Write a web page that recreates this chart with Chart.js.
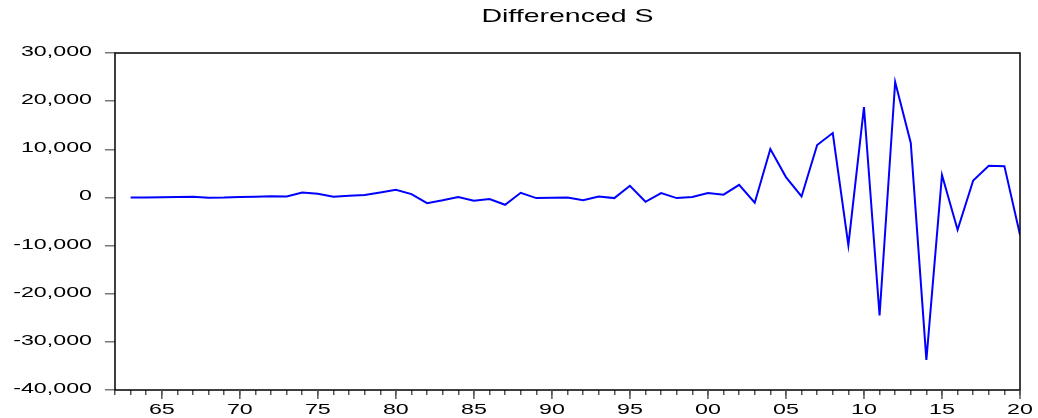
<!DOCTYPE html>
<html lang="en">
<head>
    <meta charset="UTF-8">
    <title>Differenced S</title>
    <script src="https://cdn.jsdelivr.net/npm/chart.js"></script>
    <style>
        body { margin: 0; background: #fff; }
        #wrap { width: 1038px; height: 418px; }
    </style>
</head>
<body>
<div id="wrap"><canvas id="chart" width="1038" height="418"></canvas></div>
<script>
// years 1963 - 2020
const years = [];
for (let y = 1963; y <= 2020; y++) years.push(y);

const values = [
    0, 0, 50, 100, 150, -50, -30, 100, 150, 250,          // 1963-1972
    200, 1000, 760, 140, 350, 490, 1040, 1600, 700, -1180, // 1973-1982
    -600, 70, -700, -350, -1530, 970, -140, -70, 0, -560, // 1983-1992
    200, -140, 2430, -900, 900, -140, 70, 900, 580, 2600, // 1993-2002
    -1110, 10050, 4230, 210, 10880, 13370, -9910, 18780, -24530, 23980, // 2003-2012
    11300, -33750, 4640, -6720, 3530, 6580, 6500, -7760    // 2013-2020
];

const yTicks = [-40000, -30000, -20000, -10000, 0, 10000, 20000, 30000];
const titleText = "Differenced S";

const FONT = '"Liberation Sans", Arial, sans-serif';
const STRETCH = 1.55;

// text looks horizontally stretched in the original
function stretchedText(ctx, text, x, y, align, size, sx) {
    ctx.save();
    ctx.font = size + 'px ' + FONT;
    ctx.fillStyle = '#000';
    ctx.textBaseline = 'alphabetic';
    const w = ctx.measureText(text).width * sx;
    let left = x;
    if (align === 'center') left = x - w / 2;
    if (align === 'right') left = x - w;
    ctx.translate(left, y);
    ctx.scale(sx, 1);
    ctx.textAlign = 'left';
    ctx.fillText(text, 0, 0);
    ctx.restore();
}

const framePlugin = {
    id: 'frame',
    afterDraw(chart) {
        const ctx = chart.ctx;
        const a = chart.chartArea;
        const xs = chart.scales.x;
        const ys = chart.scales.y;

        // box round the plot
        ctx.save();
        ctx.strokeStyle = '#000';
        ctx.lineWidth = 1.5;
        ctx.strokeRect(a.left, a.top, a.right - a.left, a.bottom - a.top);

        // major x ticks every 5 years
        ctx.strokeStyle = '#555';
        ctx.lineWidth = 1.5;
        xs.ticks.forEach(t => {
            if (t.value % 5 !== 0) return;
            const px = xs.getPixelForValue(t.value);
            ctx.beginPath();
            ctx.moveTo(px, a.bottom);
            ctx.lineTo(px, a.bottom + 9);
            ctx.stroke();
        });
        ctx.restore();

        // x labels
        xs.ticks.forEach(t => {
            if (t.value % 5 !== 0) return;
            const px = xs.getPixelForValue(t.value);
            stretchedText(ctx, String(t.value % 100).padStart(2, '0'), px, a.bottom + 24, 'center', 15, STRETCH);
        });

        // y labels
        yTicks.forEach(v => {
            const py = ys.getPixelForValue(v);
            stretchedText(ctx, v.toLocaleString('en-US'), a.left - 23, py + 3, 'right', 15, STRETCH);
        });

        // title
        stretchedText(ctx, titleText, (a.left + a.right) / 2, 22, 'center', 19, 1.5);
    }
};

new Chart(document.getElementById('chart').getContext('2d'), {
    type: 'line',
    data: {
        datasets: [{
            data: years.map((yr, i) => ({ x: yr, y: values[i] })),
            borderColor: '#0000ff',
            borderWidth: 2,
            pointRadius: 0,
            tension: 0,
            fill: false
        }]
    },
    options: {
        responsive: false,
        animation: false,
        devicePixelRatio: 1,
        layout: { padding: { top: 53, right: 18, left: 0, bottom: 0 } },
        plugins: {
            legend: { display: false },
            title: { display: false },
            tooltip: { enabled: false }
        },
        scales: {
            x: {
                type: 'linear',
                min: 1962,
                max: 2020,
                ticks: { stepSize: 1, display: false, autoSkip: false },
                grid: { drawOnChartArea: false, drawTicks: true, tickLength: 5, color: '#555', lineWidth: 1.5 },
                border: { display: false },
                afterFit(scale) { scale.height = 28; }
            },
            y: {
                min: -40000,
                max: 30000,
                ticks: { stepSize: 10000, display: false },
                grid: { drawOnChartArea: false, drawTicks: true, tickLength: 10, color: '#777', lineWidth: 1.5 },
                border: { display: false },
                afterFit(scale) { scale.width = 115; }
            }
        }
    },
    plugins: [framePlugin]
});
</script>
</body>
</html>
